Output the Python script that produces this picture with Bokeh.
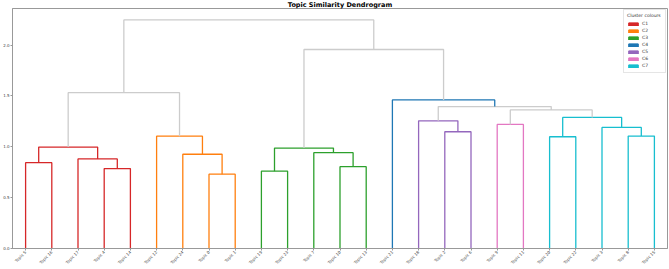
import math
from bokeh.plotting import figure
from bokeh.models import Range1d, FixedTicker, ColumnDataSource, Legend, LegendItem, NumeralTickFormatter, Label
from bokeh.embed import file_html
from bokeh.resources import INLINE

# Leaf order (left to right)
leaf_labels = ["Topic 5", "Topic 16", "Topic 17", "Topic 4", "Topic 14", "Topic 12",
               "Topic 24", "Topic 0", "Topic 1", "Topic 19", "Topic 23", "Topic 7",
               "Topic 10", "Topic 13", "Topic 21", "Topic 18", "Topic 2", "Topic 6",
               "Topic 9", "Topic 11", "Topic 20", "Topic 22", "Topic 3", "Topic 8",
               "Topic 15"]

# Linkage: merge k creates node 25+k from (left, right) at height
merge_left = [0, 3, 2, 25, 7, 6, 5, 28, 9, 12, 11, 33, 16, 15, 18, 20, 23, 22, 40, 39, 38, 14, 36, 32]
merge_right = [1, 4, 26, 27, 8, 29, 30, 31, 10, 13, 34, 35, 17, 37, 19, 21, 24, 41, 42, 43, 44, 45, 46, 47]
merge_height = [0.844, 0.786, 0.881, 0.998, 0.731, 0.927, 1.105, 1.533, 0.760, 0.805, 0.942, 0.988,
                1.148, 1.256, 1.220, 1.099, 1.106, 1.191, 1.289, 1.363, 1.396, 1.461, 1.957, 2.248]
merge_cluster = ["C1", "C1", "C1", "C1", "C2", "C2", "C2", None, "C3", "C3", "C3", "C3",
                 "C5", "C5", "C6", "C7", "C7", "C7", "C7", None, None, "C4", None, None]

cluster_names = ["C1", "C2", "C3", "C4", "C5", "C6", "C7"]
cluster_colors = ["#d62728", "#ff7f0e", "#2ca02c", "#1f77b4", "#9467bd", "#e377c2", "#17becf"]
above_color = "#cccccc"

y_ticks = [0.0, 0.5, 1.0, 1.5, 2.0]
title_text = "Topic Similarity Dendrogram"
legend_title = "Cluster colours"

color_of = dict(zip(cluster_names, cluster_colors))
n = len(leaf_labels)
node_x = {i: float(i) for i in range(n)}
node_y = {i: 0.0 for i in range(n)}
xs, ys, cols = [], [], []
for k, (a, b, h, c) in enumerate(zip(merge_left, merge_right, merge_height, merge_cluster)):
    node = n + k
    node_x[node] = (node_x[a] + node_x[b]) / 2.0
    node_y[node] = h
    xs.append([node_x[a], node_x[a], node_x[b], node_x[b]])
    ys.append([node_y[a], h, h, node_y[b]])
    cols.append(color_of[c] if c else above_color)

src = ColumnDataSource(dict(xs=xs, ys=ys, color=cols))
y_top = max(merge_height) * 1.05

p = figure(width=669, height=269, output_backend="svg", toolbar_location=None,
           x_range=Range1d(-0.5, n - 0.5), y_range=Range1d(0, y_top),
           min_border_left=10, min_border_right=2, min_border_top=8, min_border_bottom=20)

p.multi_line(xs="xs", ys="ys", line_color="color", line_width=1.3, source=src)

nan = float("nan")
items = []
for name, col in zip(cluster_names, cluster_colors):
    r = p.quad(left=[nan], right=[nan], top=[nan], bottom=[nan], fill_color=col, line_color=col)
    items.append(LegendItem(label=name, renderers=[r]))

legend = Legend(items=items, location="top_right", title=legend_title)
legend.title_text_font_size = "4.5px"
legend.title_text_font_style = "normal"
legend.title_text_font = "DejaVu Sans"
legend.title_text_color = "#333333"
legend.title_standoff = 2
legend.label_text_font_size = "4.5px"
legend.label_text_font = "DejaVu Sans"
legend.label_text_color = "#333333"
legend.label_height = 7
legend.label_standoff = 3
legend.glyph_width = 12
legend.glyph_height = 4
legend.spacing = 0
legend.padding = 3
legend.margin = 1
legend.border_line_color = "#cccccc"
legend.background_fill_alpha = 0.85
p.add_layout(legend)

title = Label(x=(n - 1) / 2.0, y=4, y_units="screen", text=title_text,
              text_align="center", text_baseline="middle",
              text_font="DejaVu Sans", text_font_size="6.5px", text_font_style="bold",
              text_color="#000000")
p.add_layout(title, "above")

p.xgrid.visible = False
p.ygrid.visible = False
p.outline_line_color = "#999999"
p.outline_line_width = 1

for ax in (p.xaxis[0], p.yaxis[0]):
    ax.axis_line_color = "#999999"
    ax.major_tick_line_color = "#999999"
    ax.major_tick_out = 2
    ax.major_tick_in = 0
    ax.minor_tick_line_color = None
    ax.major_label_text_font = "DejaVu Sans"
    ax.major_label_text_font_size = "4px"
    ax.major_label_text_color = "#444444"
    ax.major_label_standoff = 1

p.yaxis.ticker = FixedTicker(ticks=y_ticks)
p.yaxis.formatter = NumeralTickFormatter(format="0.0")

p.xaxis.ticker = FixedTicker(ticks=list(range(n)))
p.xaxis.major_label_overrides = {i: lbl for i, lbl in enumerate(leaf_labels)}
p.xaxis.major_label_orientation = math.pi / 4

open("out.html", "w").write(file_html(p, INLINE))
